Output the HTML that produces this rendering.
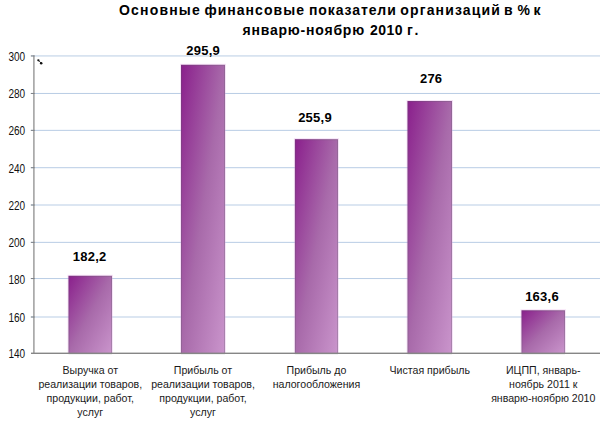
<!DOCTYPE html>
<html><head><meta charset="utf-8"><style>
html,body{margin:0;padding:0;background:#fff;}
body{width:613px;height:423px;position:relative;overflow:hidden;font-family:"Liberation Sans",sans-serif;color:#000;}
svg{position:absolute;left:0;top:0;}
.tw{position:absolute;font-weight:bold;font-size:14px;line-height:16px;white-space:nowrap;color:#000;}
.yl{position:absolute;left:0;width:25.2px;text-align:right;font-size:12px;line-height:14px;transform:scaleX(0.835);transform-origin:25.2px 0;color:#111;}
.dl{position:absolute;width:60px;text-align:center;font-weight:bold;font-size:13px;line-height:15px;letter-spacing:0.25px;color:#000;}
.cl{position:absolute;width:120px;text-align:center;font-size:10.6px;line-height:12px;white-space:nowrap;color:#1a1a1a;}
</style></head><body>
<svg width="613" height="423" viewBox="0 0 613 423">
<defs><linearGradient id="g" x1="0" y1="0" x2="1" y2="1"><stop offset="0" stop-color="#8a1f8c"/><stop offset="0.5" stop-color="#a86aaa"/><stop offset="1" stop-color="#ca95cc"/></linearGradient></defs>
<rect x="31" y="55.44" width="569" height="1" fill="#b9cde5"/>
<rect x="31" y="92.96" width="569" height="1" fill="#b9cde5"/>
<rect x="31" y="129.86" width="569" height="1" fill="#b9cde5"/>
<rect x="31" y="167.20" width="569" height="1" fill="#b9cde5"/>
<rect x="31" y="204.50" width="569" height="1" fill="#b9cde5"/>
<rect x="31" y="241.86" width="569" height="1" fill="#b9cde5"/>
<rect x="31" y="278.05" width="569" height="1" fill="#b9cde5"/>
<rect x="31" y="316.50" width="569" height="1" fill="#b9cde5"/>
<rect x="68.00" y="275.30" width="44.50" height="78.00" fill="none" stroke="rgba(225,160,230,0.3)" stroke-width="1"/>
<rect x="68.5" y="275.8" width="43.50" height="77.50" fill="url(#g)"/>
<rect x="69.00" y="276.30" width="42.50" height="77.50" fill="none" stroke="rgba(90,90,100,0.28)" stroke-width="1"/>
<rect x="180.50" y="64.30" width="45.00" height="289.00" fill="none" stroke="rgba(225,160,230,0.3)" stroke-width="1"/>
<rect x="181.0" y="64.8" width="44.00" height="288.50" fill="url(#g)"/>
<rect x="181.50" y="65.30" width="43.00" height="288.50" fill="none" stroke="rgba(90,90,100,0.28)" stroke-width="1"/>
<rect x="294.40" y="138.70" width="44.10" height="214.60" fill="none" stroke="rgba(225,160,230,0.3)" stroke-width="1"/>
<rect x="294.9" y="139.2" width="43.10" height="214.10" fill="url(#g)"/>
<rect x="295.40" y="139.70" width="42.10" height="214.10" fill="none" stroke="rgba(90,90,100,0.28)" stroke-width="1"/>
<rect x="407.00" y="100.50" width="45.50" height="252.80" fill="none" stroke="rgba(225,160,230,0.3)" stroke-width="1"/>
<rect x="407.5" y="101.0" width="44.50" height="252.30" fill="url(#g)"/>
<rect x="408.00" y="101.50" width="43.50" height="252.30" fill="none" stroke="rgba(90,90,100,0.28)" stroke-width="1"/>
<rect x="521.00" y="309.80" width="44.50" height="43.50" fill="none" stroke="rgba(225,160,230,0.3)" stroke-width="1"/>
<rect x="521.5" y="310.3" width="43.50" height="43.00" fill="url(#g)"/>
<rect x="522.00" y="310.80" width="42.50" height="43.00" fill="none" stroke="rgba(90,90,100,0.28)" stroke-width="1"/>
<rect x="33.2" y="55.44" width="1.4" height="297.86" fill="#979797"/>
<rect x="31" y="352.60" width="569" height="1.4" fill="#868686"/>
<rect x="30.8" y="55.44" width="3.8" height="1" fill="#7d8186"/>
<rect x="30.8" y="92.96" width="3.8" height="1" fill="#7d8186"/>
<rect x="30.8" y="129.86" width="3.8" height="1" fill="#7d8186"/>
<rect x="30.8" y="167.20" width="3.8" height="1" fill="#7d8186"/>
<rect x="30.8" y="204.50" width="3.8" height="1" fill="#7d8186"/>
<rect x="30.8" y="241.86" width="3.8" height="1" fill="#7d8186"/>
<rect x="30.8" y="278.05" width="3.8" height="1" fill="#7d8186"/>
<rect x="30.8" y="316.50" width="3.8" height="1" fill="#7d8186"/>
<circle cx="38.4" cy="60.3" r="1.15" fill="#111"/><circle cx="41.2" cy="63.2" r="1.25" fill="#111"/><line x1="38" y1="59.9" x2="41.6" y2="63.6" stroke="#111" stroke-width="0.8"/>
</svg>
<span class="tw" style="left:119.0px;top:2.3px;letter-spacing:1.186px">Основные</span><span class="tw" style="left:204.4px;top:2.3px;letter-spacing:1.033px">финансовые</span><span class="tw" style="left:308.9px;top:2.3px;letter-spacing:0.911px">показатели</span><span class="tw" style="left:400.3px;top:2.3px;letter-spacing:1.14px">организаций</span><span class="tw" style="left:504.0px;top:2.3px;letter-spacing:0px">в</span><span class="tw" style="left:517.6px;top:2.3px;letter-spacing:0px">%</span><span class="tw" style="left:533.5px;top:2.3px;letter-spacing:0px">к</span><span class="tw" style="left:242.5px;top:22px;letter-spacing:0.792px">январю-ноябрю</span><span class="tw" style="left:370.1px;top:22px;letter-spacing:0.467px">2010</span><span class="tw" style="left:406.9px;top:22px;letter-spacing:3.1px">г.</span>

<div class="yl" style="top:49.94px">300</div>
<div class="yl" style="top:87.46px">280</div>
<div class="yl" style="top:124.36px">260</div>
<div class="yl" style="top:161.70px">240</div>
<div class="yl" style="top:199.00px">220</div>
<div class="yl" style="top:236.36px">200</div>
<div class="yl" style="top:272.55px">180</div>
<div class="yl" style="top:311.00px">160</div>
<div class="yl" style="top:347.30px">140</div>
<div class="dl" style="left:59.60px;top:248.60px">182,2</div>
<div class="cl" style="left:30.25px;top:364.40px">Выручка от</div>
<div class="cl" style="left:30.25px;top:378.30px">реализации товаров,</div>
<div class="cl" style="left:30.25px;top:392.20px">продукции, работ,</div>
<div class="cl" style="left:30.25px;top:406.10px">услуг</div>
<div class="dl" style="left:173.20px;top:42.90px">295,9</div>
<div class="cl" style="left:143.00px;top:364.40px">Прибыль от</div>
<div class="cl" style="left:143.00px;top:378.30px">реализации товаров,</div>
<div class="cl" style="left:143.00px;top:392.20px">продукции, работ,</div>
<div class="cl" style="left:143.00px;top:406.10px">услуг</div>
<div class="dl" style="left:285.05px;top:109.90px">255,9</div>
<div class="cl" style="left:256.45px;top:364.40px">Прибыль до</div>
<div class="cl" style="left:256.45px;top:378.30px">налогообложения</div>
<div class="dl" style="left:401.15px;top:70.80px">276</div>
<div class="cl" style="left:369.75px;top:364.40px">Чистая прибыль</div>
<div class="dl" style="left:512.05px;top:289.10px">163,6</div>
<div class="cl" style="left:483.25px;top:364.40px">ИЦПП, январь-</div>
<div class="cl" style="left:483.25px;top:378.30px">ноябрь 2011 к</div>
<div class="cl" style="left:483.25px;top:392.20px">январю-ноябрю 2010</div>
</body></html>
